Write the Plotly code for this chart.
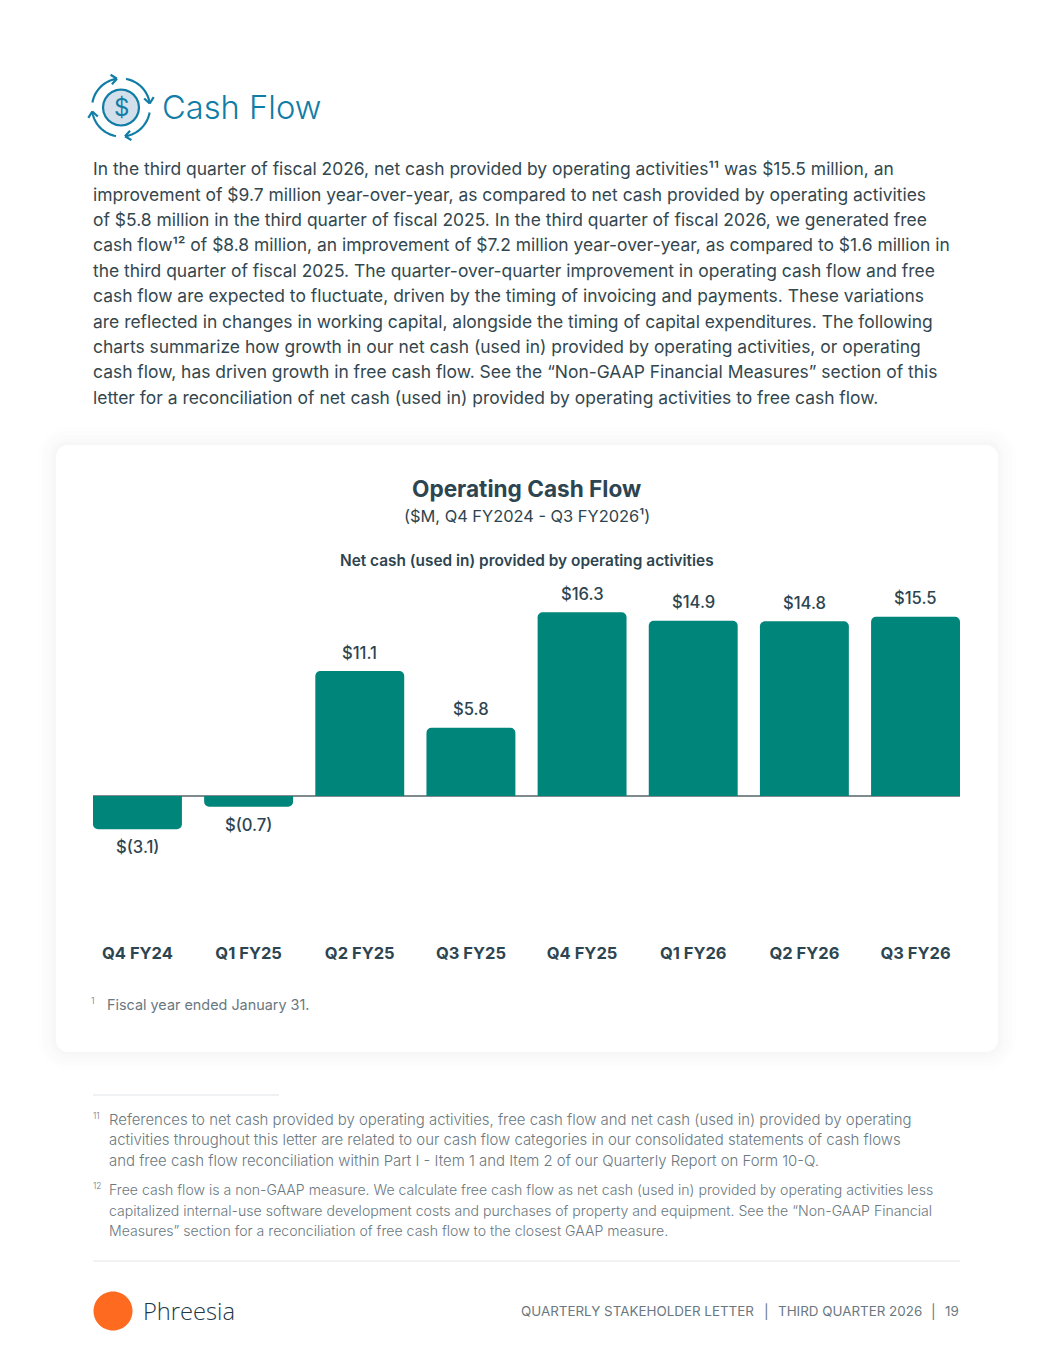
import math
import plotly.graph_objects as go

W, H = 1055, 1365
categories = ["Q4 FY24", "Q1 FY25", "Q2 FY25", "Q3 FY25", "Q4 FY25", "Q1 FY26", "Q2 FY26", "Q3 FY26"]
# Printed values, kept as labels: $(3.1) $(0.7) $11.1 $5.8 $16.3 $14.9 $14.8 $15.5
value_labels = ["$(3.1)", "$(0.7)", "$11.1", "$5.8", "$16.3", "$14.9", "$14.8", "$15.5"]
# Bar heights as measured on the picture. The source artwork is not exactly to scale with its labels.
bar_heights = [-2.95, -0.95, 11.07, 6.05, 16.27, 15.53, 15.47, 15.88]

body_lines = [
    "In the third quarter of fiscal 2026, net cash provided by operating activities¹¹ was $15.5 million, an",
    "improvement of $9.7 million year-over-year, as compared to net cash provided by operating activities",
    "of $5.8 million in the third quarter of fiscal 2025. In the third quarter of fiscal 2026, we generated free",
    "cash flow¹² of $8.8 million, an improvement of $7.2 million year-over-year, as compared to $1.6 million in",
    "the third quarter of fiscal 2025. The quarter-over-quarter improvement in operating cash flow and free",
    "cash flow are expected to fluctuate, driven by the timing of invoicing and payments. These variations",
    "are reflected in changes in working capital, alongside the timing of capital expenditures. The following",
    "charts summarize how growth in our net cash (used in) provided by operating activities, or operating",
    "cash flow, has driven growth in free cash flow. See the “Non-GAAP Financial Measures” section of this",
    "letter for a reconciliation of net cash (used in) provided by operating activities to free cash flow.",
]
note_11 = [
    "References to net cash provided by operating activities, free cash flow and net cash (used in) provided by operating",
    "activities throughout this letter are related to our cash flow categories in our consolidated statements of cash flows",
    "and free cash flow reconciliation within Part I - Item 1 and Item 2 of our Quarterly Report on Form 10-Q.",
]
note_12 = [
    "Free cash flow is a non-GAAP measure. We calculate free cash flow as net cash (used in) provided by operating activities less",
    "capitalized internal-use software development costs and purchases of property and equipment. See the “Non-GAAP Financial",
    "Measures” section for a reconciliation of free cash flow to the closest GAAP measure.",
]

BLUE = "#117da6"
DARK = "#2d4550"
GREY = "#6a7881"
TEAL = "#00857a"
FONT = "Inter"

def fx(x):
    return x / W

def fy(y):
    return 1 - y / H

annotations = []

def label(text, x, y, size, color=DARK, weight=400, anchor="left", family=FONT):
    annotations.append(dict(
        text=text, x=fx(x - 1 if anchor == "left" else x), y=fy(y), xref="paper", yref="paper", showarrow=False,
        xanchor=anchor, yanchor="middle", borderpad=0,
        font=dict(family=family, size=size, color=color, weight=weight),
    ))

shapes = []

def poly(points, color, width, fill=None, layer="above"):
    d = "M " + " L ".join(f"{fx(px):.5f} {fy(py):.5f}" for px, py in points)
    s = dict(type="path", path=d, xref="paper", yref="paper", layer=layer,
             line=dict(color=color, width=width))
    if fill:
        s["path"] = d + " Z"
        s["fillcolor"] = fill
        if width == 0:
            s["line"] = dict(width=0)
    shapes.append(s)

def round_rect(x0, y0, x1, y1, r):
    pts = []
    for cx, cy, start in [(x1 - r, y0 + r, -90), (x1 - r, y1 - r, 0), (x0 + r, y1 - r, 90), (x0 + r, y0 + r, 180)]:
        for i in range(9):
            a = math.radians(start + i * 90 / 8)
            pts.append((cx + r * math.cos(a), cy + r * math.sin(a)))
    return pts

# card with a soft shadow
for grow, col in [(18, "#fefefe"), (14, "#fcfcfc"), (10, "#fbfbfb"), (6, "#f9f9f9"), (3, "#f7f7f7")]:
    poly(round_rect(56 - grow, 445 - grow, 998 + grow, 1052 + grow, 12 + grow), col, 0, col, "below")
poly(round_rect(56, 445, 998, 1052, 12), "#ffffff", 0, "#ffffff", "below")

# section icon
cx, cy, R = 121, 107.5, 29
def arc(a0, a1, rad=R, n=24):
    return [(cx + rad * math.cos(math.radians(a0 + (a1 - a0) * i / n)),
             cy + rad * math.sin(math.radians(a0 + (a1 - a0) * i / n))) for i in range(n + 1)]
poly(arc(0, 360, 18), BLUE, 2.2, "#d3dfea")
for a0, a1 in [(190, 262), (280, 352), (10, 82), (100, 172)]:
    poly(arc(a0, a1), BLUE, 2.2)
    ex, ey = arc(a0, a1)[-1]
    t = math.radians(a1 + 90)
    for off in (140, -140):
        poly([(ex, ey), (ex + 7.5 * math.cos(t + math.radians(off)), ey + 7.5 * math.sin(t + math.radians(off)))], BLUE, 2.2)
label("$", cx, cy + 0.5, 24, BLUE, 400, "center")
label("Cash Flow", 162, 107.5, 32.7, BLUE, 300)

for i, line in enumerate(body_lines):
    label(line, 93, 168.7 + i * 25.4, 17.45, "#33474f", 400)

# card text
label("Operating Cash Flow", 526.5, 488.3, 22.6, DARK, 700, "center")
label("($M, Q4 FY2024 - Q3 FY2026¹)", 527, 516, 16.4, DARK, 400, "center")
label("Net cash (used in) provided by operating activities", 527, 560.5, 15.4, DARK, 600, "center")
label("1", 91, 1001, 9, GREY, 300)
label("Fiscal year ended January 31.", 107, 1004, 14.4, GREY, 400)

# footnotes
shapes.append(dict(type="line", x0=fx(93), x1=fx(279), y0=fy(1095), y1=fy(1095), xref="paper", yref="paper",
                   line=dict(color="#e0e3e5", width=1)))
label("11", 93, 1115.5, 8.5, GREY, 300)
for i, line in enumerate(note_11):
    label(line, 109, 1119.5 + i * 20.6, 14.93, GREY, 300)
label("12", 93, 1185.5, 8.5, GREY, 300)
for i, line in enumerate(note_12):
    label(line, 109, 1189.5 + i * 20.6, 14.1, GREY, 300)
shapes.append(dict(type="line", x0=fx(93), x1=fx(960), y0=fy(1261), y1=fy(1261), xref="paper", yref="paper",
                   line=dict(color="#e3e6e8", width=1)))

# footer
cx, cy = 113, 1311
poly(arc(0, 360, 19.5, 60), "#ff6a21", 0, "#ff6a21")
label("Phreesia", 143, 1311, 23.7, "#20374a", 300, "left", "Open Sans")
label("QUARTERLY STAKEHOLDER LETTER", 521, 1311, 13.4, GREY, 400)
label("|", 766, 1311, 14, GREY, 400, "center")
label("THIRD QUARTER 2026", 778, 1311, 13.4, GREY, 400)
label("|", 933, 1311, 14, GREY, 400, "center")
label("19", 945, 1311, 13.4, GREY, 400)

# value labels are tied to the data scale
for cat, val, txt in zip(categories, bar_heights, value_labels):
    annotations.append(dict(
        text=txt, x=cat, y=val, xref="x", yref="y", showarrow=False, xanchor="center", yanchor="middle",
        yshift=18.5 if val > 0 else -18,
        font=dict(family=FONT, size=16.6, color=DARK, weight=500),
    ))

fig = go.Figure(go.Bar(
    x=categories, y=bar_heights, marker=dict(color=TEAL, line=dict(width=0)), width=0.8,
    hoverinfo="skip", showlegend=False,
))
PLOT_TOP, PLOT_BOTTOM, ZERO, SCALE = 570, 938, 796, 11.29
fig.update_layout(
    width=W, height=H, margin=dict(l=0, r=0, t=0, b=0, pad=0),
    paper_bgcolor="#ffffff", plot_bgcolor="rgba(0,0,0,0)",
    barcornerradius=5, showlegend=False,
    xaxis=dict(domain=[fx(93), fx(960)], range=[-0.4, 7.4], type="category",
               showgrid=False, showline=False, ticks="", zeroline=False,
               tickfont=dict(family=FONT, size=16.5, color=DARK, weight=700), ticklabelstandoff=3),
    yaxis=dict(domain=[fy(PLOT_BOTTOM), fy(PLOT_TOP)],
               range=[(ZERO - PLOT_BOTTOM) / SCALE, (ZERO - PLOT_TOP) / SCALE],
               visible=True, showticklabels=False, showgrid=False, showline=False, ticks="",
               zeroline=True, zerolinecolor="#7f8c8f", zerolinewidth=1.5),
    shapes=shapes, annotations=annotations,
)
fig.write_html("out.html", config=dict(displayModeBar=False),
               post_script="document.body.style.margin='0';document.body.style.overflow='hidden';")
